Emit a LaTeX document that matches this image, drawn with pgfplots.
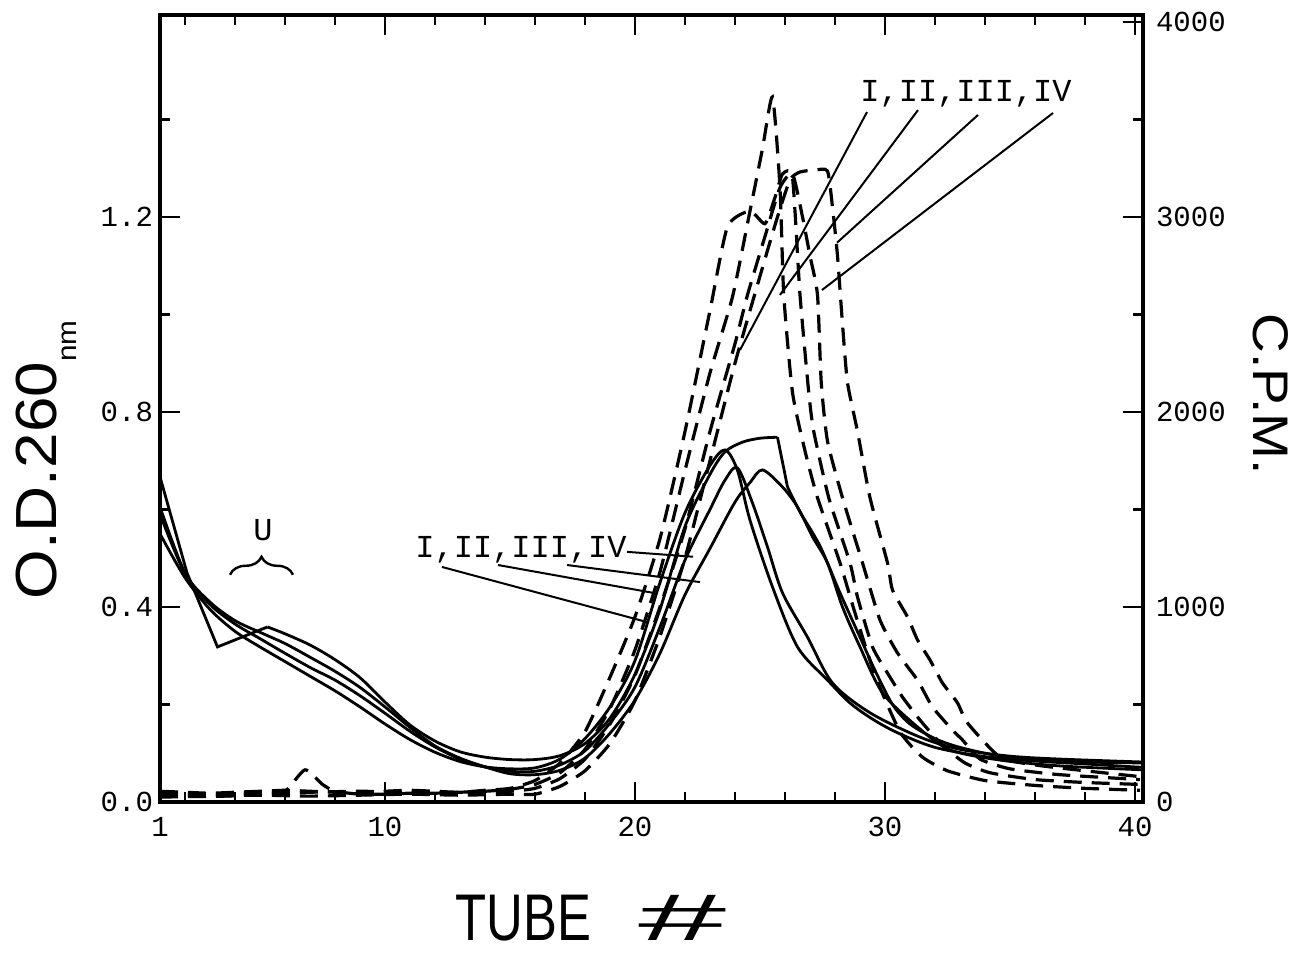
\documentclass[border=0pt]{standalone}
\usepackage{fontspec}
\setmainfont{Liberation Sans}
\newfontfamily\tw{Liberation Mono}
\newfontfamily\condensed[FakeStretch=0.77]{Liberation Sans}
\newfontfamily\widesans[FakeStretch=1.1]{Liberation Sans}
\newfontfamily\hashfont[FakeStretch=2.4]{Liberation Sans}
\usepackage{pgfplots}
\pgfplotsset{compat=1.18}
\usetikzlibrary{decorations.pathreplacing}

\pgfplotsset{
  odcurve/.style={black, line width=1.4pt, smooth, tension=0.5, no markers},
  odline/.style={black, line width=1.4pt, no markers},
  cpmcurve/.style={black, line width=1.6pt, smooth, tension=0.35, no markers,
                   dash pattern=on 9pt off 5pt},
  frame/.style={
    scale only axis, width=491.5pt, height=393.5pt,
    at={(0,0)}, anchor=south west,
    xmin=1, xmax=40.32,
    tick align=inside,
    major tick length=10pt, minor tick length=5pt,
    every tick/.style={black, line width=1.3pt},
    ticklabel style={font=\tw\fontsize{14.5}{17}\selectfont},
  },
}

\begin{document}
\begin{tikzpicture}
\useasboundingbox (-80pt,-75.5pt) rectangle (571.5pt,401pt);

% ---------- O.D. 260 nm (left axis), tube number on x ----------
\begin{axis}[frame,
  ymin=0, ymax=1.614,
  axis line style={line width=1.8pt},
  xtick={1,10,20,30,40}, xticklabels={1,10,20,30,40},
  minor xtick={2,4,6,8,12,14,16,18,22,24,26,28,32,34,36,38},
  xticklabel style={yshift=-4pt},
  ytick={0,0.4,0.8,1.2}, yticklabels={0.0,0.4,0.8,1.2},
  minor ytick={0.2,0.6,1.0,1.4},
  ytick pos=left,
]
% I
\addplot[odcurve] coordinates {
 (1,0.55)(2,0.46)(3,0.395)(4,0.35)(5,0.318)(6,0.288)(7,0.258)(8,0.228)
 (9,0.195)(10,0.16)(11,0.128)(12,0.102)(13,0.083)(14,0.072)(15,0.068)
 (16,0.07)(17,0.088)(18,0.13)(19,0.195)(20,0.29)(21,0.45)(22,0.593)
 (23,0.69)(23.6,0.722)(24.1,0.68)(24.6,0.578)(25.5,0.441)(26.5,0.318)
 (27.7,0.25)(28.6,0.203)(29.5,0.17)(30.5,0.142)(32,0.112)(34,0.093)
 (36,0.084)(38,0.078)(40.3,0.071)};
% II
\addplot[odline] coordinates {
 (1,0.667)(2.08,0.47)(3.3,0.318)(5.3,0.359)};
\addplot[odcurve] coordinates {
 (5.3,0.359)(6,0.345)(7,0.322)(8,0.292)(9,0.255)(10,0.205)(11,0.158)
 (12,0.125)(13,0.103)(14,0.092)(15,0.087)(16,0.087)(17,0.095)(18,0.12)
 (19,0.172)(20,0.262)(21,0.395)(22,0.565)(23,0.672)(23.6,0.718)
 (24.3,0.738)(25,0.746)(25.7,0.748)};
\addplot[odline] coordinates {(25.7,0.748)(26.1,0.646)};
\addplot[odcurve] coordinates {
 (26.1,0.646)(26.6,0.595)(27.4,0.525)(28.2,0.429)(29,0.338)(29.6,0.27)
 (30.3,0.2)(31,0.16)(32,0.13)(33,0.112)(34.5,0.095)(36,0.086)(38,0.082)
 (40.3,0.08)};
% III
\addplot[odcurve] coordinates {
 (1,0.59)(2,0.468)(3,0.405)(4,0.365)(5,0.335)(6,0.305)(7,0.276)(8,0.25)
 (9,0.218)(10,0.182)(11,0.145)(12,0.113)(13,0.088)(14,0.072)(15,0.063)
 (16,0.063)(17,0.076)(18,0.105)(19,0.162)(20,0.236)(21,0.359)(22,0.496)
 (23,0.6)(23.6,0.66)(24.1,0.685)(24.7,0.613)(25.3,0.523)(25.9,0.429)
 (26.9,0.338)(27.9,0.244)(29.4,0.183)(31.4,0.133)(33,0.108)(35,0.094)
 (37,0.088)(40.3,0.082)};
% IV
\addplot[odcurve] coordinates {
 (1,0.605)(2,0.47)(3,0.41)(4,0.372)(5,0.348)(6,0.325)(7,0.297)(8,0.268)
 (9,0.235)(10,0.195)(11,0.153)(12,0.115)(13,0.09)(14,0.072)(15,0.058)
 (16,0.056)(17,0.065)(18,0.09)(19,0.141)(20,0.209)(21,0.305)(22,0.425)
 (23,0.52)(24,0.615)(24.6,0.655)(25.1,0.681)(25.9,0.646)(26.5,0.605)
 (27.1,0.544)(27.7,0.49)(28.3,0.4)(29,0.318)(29.9,0.224)(31.3,0.154)
 (32.6,0.107)(34.6,0.086)(37,0.074)(40.3,0.066)};

% labels of the four runs
\node[anchor=base west, inner sep=0, font=\tw\fontsize{16}{18}\selectfont]
  at (axis cs:29.0,1.436) {I,II,III,IV};
\draw[line width=1pt] (axis cs:29.28,1.415) -- (axis cs:24.2,0.927);
\draw[line width=1pt] (axis cs:31.32,1.419) -- (axis cs:25.8,1.04);
\draw[line width=1pt] (axis cs:33.72,1.409) -- (axis cs:28.08,1.147);
\draw[line width=1pt] (axis cs:36.72,1.413) -- (axis cs:27.48,1.05);

\node[anchor=base west, inner sep=0, font=\tw\fontsize{16}{18}\selectfont]
  at (axis cs:11.2,0.5005) {I,II,III,IV};
\draw[line width=1pt] (axis cs:12.28,0.482) -- (axis cs:20.48,0.369);
\draw[line width=1pt] (axis cs:14.52,0.486) -- (axis cs:20.72,0.429);
\draw[line width=1pt] (axis cs:17.28,0.486) -- (axis cs:22.6,0.451);
\draw[line width=1pt] (axis cs:19.68,0.513) -- (axis cs:22.32,0.503);

% unbound fraction
\node[anchor=base, inner sep=0, font=\tw\fontsize{16}{18}\selectfont]
  at (axis cs:5.12,0.537) {U};
\draw[line width=1.2pt, decorate, decoration={brace, amplitude=9pt}]
  (axis cs:3.8,0.466) -- (axis cs:6.32,0.466);
\end{axis}

% ---------- C.P.M. (right axis) ----------
\begin{axis}[frame,
  ymin=0, ymax=4035,
  hide x axis,
  axis y line*=right,
  axis line style={line width=1.8pt},
  ytick={0,1000,2000,3000,4000}, yticklabels={0,1000,2000,3000,4000},
  minor ytick={500,1500,2500,3500},
  yticklabel style={xshift=3pt},
  scaled y ticks=false,
]
\addplot[cpmcurve] coordinates {
 (1,35)(2,30)(3,28)(4,32)(5,40)(6,55)(6.8,165)(7.5,90)(8,55)(9,40)
 (10,40)(11,45)(12,45)(13,50)(14,55)(15,65)(16,90)(17,150)(18,270)
 (19,480)(20,780)(21,1180)(22,1700)(23,2200)(23.9,2590)(24.6,3030)
 (25.1,3350)(25.5,3615)(25.8,3150)(25.95,2600)(26.3,2100)(26.8,1800)
 (27.3,1560)(28.2,1226)(28.8,969)(29.6,650)(30.6,360)(31.5,230)
 (32.5,160)(34,110)(36,85)(38,70)(40.2,60)};
\addplot[cpmcurve] coordinates {
 (1,55)(2,50)(3,45)(4,50)(5,55)(6,60)(7,55)(8,50)(9,45)(10,55)(11,60)
 (12,55)(13,50)(14,60)(15,70)(16,110)(17,200)(18,360)(19,640)(20,950)
 (21,1350)(22,1900)(23,2520)(23.7,2950)(24.6,3030)(25.2,2965)(25.6,3100)
 (25.9,3220)(26.3,3200)(26.6,2600)(26.95,2100)(27.15,1900)(27.75,1560)
 (28.6,1226)(28.9,1051)(29.5,795)(30.1,661)(30.7,538)(31.4,420)
 (32.3,290)(33.2,200)(34.2,150)(36,115)(38,100)(40.2,90)};
\addplot[cpmcurve] coordinates {
 (1,45)(3,40)(5,45)(7,50)(9,55)(11,50)(13,45)(15,55)(16,70)(17,120)
 (18,220)(19,400)(20,650)(21,1000)(22,1400)(23,1900)(24,2350)(24.5,2600)
 (25.2,2900)(25.8,3150)(26.3,3220)(26.7,3000)(27.0,2800)(27.3,2600)
 (27.45,2150)(27.7,1850)(28.3,1560)(29.1,1226)(29.8,933)(30.5,764)
 (31.3,625)(31.9,487)(32.7,369)(33.1,318)(33.8,220)(35,170)(37,140)
 (40.2,115)};
\addplot[cpmcurve] coordinates {
 (1,25)(3,30)(5,35)(7,30)(9,35)(11,40)(13,35)(15,40)(16,40)(17,80)
 (18,160)(19,300)(20,520)(21,850)(22,1250)(23,1750)(24,2250)(25.1,2740)
 (25.7,3000)(26.2,3190)(26.6,3230)(27.2,3240)(27.7,3235)(27.9,3050)
 (28.1,2800)(28.3,2450)(28.5,2150)(28.9,1900)(29.4,1560)(30.1,1226)
 (30.3,1087)(30.9,949)(31.3,831)(31.8,728)(32.3,610)(32.9,508)(33.3,405)
 (34.6,230)(36,190)(38,160)(40.2,130)};
\end{axis}

% axis titles
\node[rotate=90, anchor=base west, inner sep=0, font=\widesans\fontsize{29}{34}\selectfont]
  at (-51.5pt,101pt) {O.D.260\raisebox{-10pt}{\fontsize{13.5}{15}\selectfont nm}};
\node[anchor=base west, inner sep=0]
  at (147.5pt,-69.5pt) {\raisebox{0pt}[\height][0pt]{{\condensed\fontsize{33}{38}\selectfont TUBE}\hspace{24pt}{\hashfont\fontsize{33}{38}\selectfont\#}}};
\node[rotate=-90, anchor=base west, inner sep=0, font=\widesans\fontsize{25}{30}\selectfont]
  at (546.5pt,244.5pt) {C.P.M.};
\end{tikzpicture}
\end{document}
